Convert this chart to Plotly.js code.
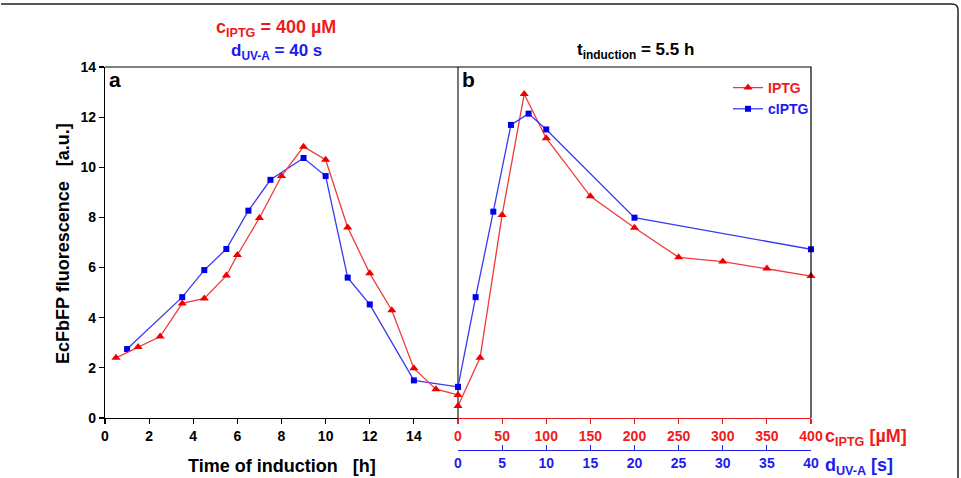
<!DOCTYPE html>
<html>
<head>
<meta charset="utf-8">
<script src="https://cdn.plot.ly/plotly-3.0.1.min.js"></script>
<style>
  html, body { margin: 0; padding: 0; background: #fff; }
  #chart { width: 961px; height: 478px; }
</style>
</head>
<body>
<div id="chart"></div>
<script>
// Panel a: fluorescence vs. time of induction (IPTG 400 µM / UV-A 40 s)
const iptgTimeH   = [0.5, 1.5, 2.5, 3.5, 4.5, 5.5, 6, 7, 8, 9, 10, 11, 12, 13, 14, 15, 16];
const iptgFluorA  = [2.4, 2.83, 3.25, 4.57, 4.77, 5.68, 6.5, 7.98, 9.65, 10.82, 10.3, 7.6, 5.77, 4.3, 1.98, 1.15, 0.92];
const ciptgTimeH  = [1, 3.5, 4.5, 5.5, 6.5, 7.5, 9, 10, 11, 12, 14, 16];
const ciptgFluorA = [2.75, 4.82, 5.9, 6.74, 8.27, 9.5, 10.37, 9.65, 5.6, 4.53, 1.5, 1.24];

// Panel b: fluorescence vs. inducer concentration / UV-A dose (5.5 h induction)
const iptgConcUM  = [0, 25, 50, 75, 100, 150, 200, 250, 300, 350, 400];
const iptgFluorB  = [0.48, 2.4, 8.1, 12.92, 11.16, 8.84, 7.59, 6.41, 6.24, 5.96, 5.66];
const uvDoseS     = [0, 2, 4, 6, 8, 10, 20, 40];
const ciptgFluorB = [1.24, 4.82, 8.23, 11.69, 12.14, 11.51, 7.99, 6.73];

const timeTicks = [0, 2, 4, 6, 8, 10, 12, 14];
const concTicks = [0, 50, 100, 150, 200, 250, 300, 350, 400];
const doseTicks = [0, 5, 10, 15, 20, 25, 30, 35, 40];
const fluorTicks = [0, 2, 4, 6, 8, 10, 12, 14];

const RED = '#ee1c1c';
const BLUE = '#1c1cee';
const FONT = '"Liberation Sans", Arial, Helvetica, sans-serif';

// page geometry (plot area spans 105..811 x 67..450 px)
const W = 961, H = 478;
const M = { l: 105, r: 150, t: 67, b: 28 };
const PW = W - M.l - M.r, PH = H - M.t - M.b;
const px = X => (X - M.l) / PW;
const py = Y => (H - M.b - Y) / PH;
const yBottom = py(418);

const redLine = { color: '#f03a3a', width: 1.3 };
const blueLine = { color: '#3a3af0', width: 1.3 };
const redMarker = { symbol: 'triangle-up', size: 8, color: '#ee0000' };
const blueMarker = { symbol: 'square', size: 6, color: '#0000ee' };

const legendName = (txt, c) => '<span style="color:' + c + '">' + txt + '</span>';

const traces = [
  { x: ciptgTimeH, y: ciptgFluorA, xaxis: 'x', yaxis: 'y', mode: 'lines+markers',
    line: blueLine, marker: blueMarker, showlegend: false, cliponaxis: false },
  { x: iptgTimeH, y: iptgFluorA, xaxis: 'x', yaxis: 'y', mode: 'lines+markers',
    line: redLine, marker: redMarker, showlegend: false, cliponaxis: false },
  { x: iptgConcUM, y: iptgFluorB, xaxis: 'x2', yaxis: 'y', mode: 'lines+markers',
    name: legendName('IPTG', RED),
    line: redLine, marker: redMarker, cliponaxis: false, legendrank: 1 },
  { x: uvDoseS, y: ciptgFluorB, xaxis: 'x3', yaxis: 'y', mode: 'lines+markers',
    name: legendName('cIPTG', BLUE),
    line: blueLine, marker: blueMarker, cliponaxis: false, legendrank: 2 }
];

const tickFont = c => ({ family: FONT, size: 14, color: c, weight: 'bold' });

const layout = {
  width: W, height: H,
  margin: M,
  paper_bgcolor: '#fff', plot_bgcolor: 'rgba(0,0,0,0)',
  font: { family: FONT, size: 14, color: '#000', weight: 'bold' },
  showlegend: true,
  legend: {
    x: px(728), y: py(72), xanchor: 'left', yanchor: 'top',
    bgcolor: 'rgba(0,0,0,0)', borderwidth: 0,
    font: { family: FONT, size: 14, weight: 'bold' },
    itemwidth: 30, tracegroupgap: 0
  },
  xaxis: {
    domain: [0, 0.5], range: [0, 16], anchor: 'y',
    tickvals: timeTicks, ticks: 'outside', ticklen: 5, tickwidth: 1.2, tickcolor: '#000',
    showline: true, linecolor: '#000', linewidth: 1.2,
    showgrid: false, zeroline: false, tickfont: tickFont('#000')
  },
  xaxis2: {
    domain: [0.5, 1], range: [0, 400], anchor: 'y',
    tickvals: concTicks, ticks: 'outside', ticklen: 5, tickwidth: 1.2, tickcolor: RED,
    showline: true, linecolor: RED, linewidth: 1.2,
    showgrid: false, zeroline: false, tickfont: tickFont(RED)
  },
  xaxis3: {
    overlaying: 'x2', range: [0, 40], anchor: 'free', position: 0,
    tickvals: doseTicks, ticks: 'inside', ticklen: 5, tickwidth: 1.2, tickcolor: BLUE,
    showline: true, linecolor: BLUE, linewidth: 1.2,
    showgrid: false, zeroline: false, tickfont: tickFont(BLUE)
  },
  yaxis: {
    domain: [yBottom, 1], range: [0, 14],
    tickvals: fluorTicks, ticks: 'outside', ticklen: 5, tickwidth: 1.2, tickcolor: '#000',
    showline: true, linecolor: '#000', linewidth: 1.2,
    showgrid: false, zeroline: false, tickfont: tickFont('#000')
  },
  shapes: [
    // top and right borders of the plot frame
    { type: 'path', xref: 'paper', yref: 'paper', layer: 'above',
      path: `M 0,1 L 1,1 L 1,${yBottom}`, line: { color: '#000', width: 1.2 } },
    // divider between panels a and b
    { type: 'line', xref: 'paper', yref: 'paper', layer: 'below',
      x0: 0.5, x1: 0.5, y0: yBottom, y1: 1, line: { color: '#555', width: 1.6 } },
    // outer figure frame (top edge with rounded top-right corner, right edge)
    { type: 'path', xref: 'paper', yref: 'paper', layer: 'above',
      path: `M ${px(1)},${py(4)} L ${px(952)},${py(4)} Q ${px(958)},${py(4)} ${px(958)},${py(10)} L ${px(958)},${py(478)}`,
      line: { color: '#222', width: 1.5 } }
  ],
  annotations: [
    { text: 'c<sub>IPTG</sub> = 400 µM', x: px(276), y: py(28), xref: 'paper', yref: 'paper',
      xanchor: 'center', yanchor: 'middle', showarrow: false,
      font: { family: FONT, size: 18, color: RED, weight: 'bold' } },
    { text: 'd<sub>UV-A</sub> = 40 s', x: px(276), y: py(52), xref: 'paper', yref: 'paper',
      xanchor: 'center', yanchor: 'middle', showarrow: false,
      font: { family: FONT, size: 17, color: BLUE, weight: 'bold' } },
    { text: 't<sub>induction</sub> = 5.5 h', x: px(635), y: py(51), xref: 'paper', yref: 'paper',
      xanchor: 'center', yanchor: 'middle', showarrow: false,
      font: { family: FONT, size: 17, color: '#000', weight: 'bold' } },
    { text: 'a', x: px(107), y: py(80), xref: 'paper', yref: 'paper',
      xanchor: 'left', yanchor: 'middle', showarrow: false,
      font: { family: FONT, size: 21, color: '#000', weight: 'bold' } },
    { text: 'b', x: px(460), y: py(80), xref: 'paper', yref: 'paper',
      xanchor: 'left', yanchor: 'middle', showarrow: false,
      font: { family: FONT, size: 21, color: '#000', weight: 'bold' } },
    { text: 'Time of induction\u00a0\u00a0\u00a0[h]', x: px(282), y: py(466), xref: 'paper', yref: 'paper',
      xanchor: 'center', yanchor: 'middle', showarrow: false,
      font: { family: FONT, size: 18, color: '#000', weight: 'bold' } },
    { text: 'EcFbFP fluorescence\u00a0\u00a0\u00a0[a.u.]', x: px(63), y: py(244), xref: 'paper', yref: 'paper',
      xanchor: 'center', yanchor: 'middle', textangle: -90, showarrow: false,
      font: { family: FONT, size: 18, color: '#000', weight: 'bold' } },
    { text: 'c<sub>IPTG</sub>\u00a0[µM]', x: px(823), y: py(437), xref: 'paper', yref: 'paper',
      xanchor: 'left', yanchor: 'middle', showarrow: false,
      font: { family: FONT, size: 18, color: RED, weight: 'bold' } },
    { text: 'd<sub>UV-A</sub>\u00a0[s]', x: px(823), y: py(467), xref: 'paper', yref: 'paper',
      xanchor: 'left', yanchor: 'middle', showarrow: false,
      font: { family: FONT, size: 18, color: BLUE, weight: 'bold' } }
  ]
};

Plotly.newPlot('chart', traces, layout, { staticPlot: true, displayModeBar: false });
</script>
</body>
</html>
